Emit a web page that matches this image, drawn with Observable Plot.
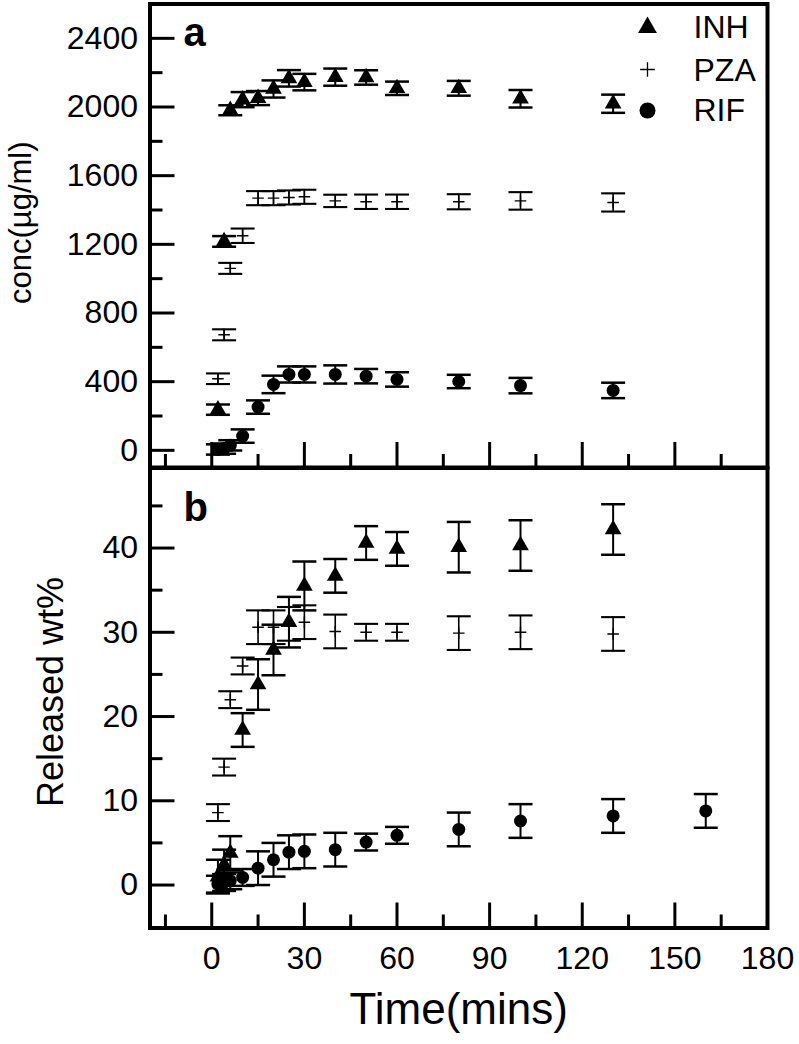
<!DOCTYPE html>
<html><head><meta charset="utf-8">
<script src="https://cdn.jsdelivr.net/npm/d3@7"></script>
<script src="https://cdn.jsdelivr.net/npm/@observablehq/plot@0.6"></script>
<style>
body{margin:0;background:#fff;}
#wrap{position:relative;width:799px;height:1044px;overflow:hidden;background:#fff;}
#wrap svg{position:absolute;left:0;overflow:visible;}
</style></head><body><div id="wrap"></div>
<script>
// ---------- data ----------
const drugs = ["INH", "PZA", "RIF"];
const times = [2, 4, 6, 10, 15, 20, 25, 30, 40, 50, 60, 80, 100, 130];
const timesRifRel = [2, 4, 6, 10, 15, 20, 25, 30, 40, 50, 60, 80, 100, 130, 160];

const inhConc    = [237, 1217, 1981, 2043, 2052, 2105, 2167, 2145, 2174, 2172, 2109, 2109, 2048, 2019];
const inhConcErr = [30, 31, 29, 44, 41, 50, 48, 48, 50, 42, 39, 43, 51, 53];
const pzaConc    = [417, 673, 1060, 1250, 1469, 1469, 1473, 1477, 1453, 1448, 1448, 1448, 1453, 1444];
const pzaConcErr = [31, 32, 32, 42, 41, 41, 41, 41, 36, 42, 42, 44, 51, 53];
const rifConc    = [5, 10, 29, 83, 252, 384, 442, 442, 442, 432, 413, 401, 377, 349];
const rifConcErr = [30, 30, 30, 39, 39, 51, 47, 47, 53, 42, 42, 39, 45, 45];

const inhRel    = [1.0, 2.4, 3.8, 18.4, 23.8, 27.9, 31.2, 35.5, 36.7, 40.6, 39.9, 40.1, 40.3, 42.2];
const inhRelErr = [2, 1.8, 2, 2, 3, 3, 3, 2.9, 2, 2, 2, 3, 3, 3];
const pzaRel    = [8.6, 14.0, 22.0, 26.0, 30.6, 30.6, 31.0, 31.2, 30.1, 30.0, 30.0, 29.9, 30.0, 29.8];
const pzaRelErr = [1, 1, 1, 1, 2, 2, 2, 2, 2, 1, 1, 2, 2, 2];
const rifRel    = [0.1, 0.3, 0.5, 0.9, 2.0, 3.0, 3.9, 4.0, 4.2, 5.1, 5.9, 6.6, 7.6, 8.2, 8.8];
const rifRelErr = [1, 1, 1, 1, 2, 2, 2, 2, 2, 1, 1, 2, 2, 2, 2];

const xMajor = [0, 30, 60, 90, 120, 150, 180];
const xMinor = [-15, 15, 45, 75, 105, 135, 165];
const concMajor = [0, 400, 800, 1200, 1600, 2000, 2400];
const concMinor = [200, 600, 1000, 1400, 1800, 2200];
const relMajor = [0, 10, 20, 30, 40];
const relMinor = [5, 15, 25, 35, 45];

const concTitle = "conc(\u00b5g/ml)";
const relTitle = "Released wt%";
const timeTitle = "Time(mins)";
const panelLabels = ["a", "b"];

// ---------- layout constants ----------
const FONT = "'Liberation Sans', Arial, Helvetica, sans-serif";
const W = 799, ML = 149.5, MR = 32;
const FW = W - ML - MR;            // frame width
const TOP_FH = 467 - 3.5;          // top frame height
const BOT_FH = 927 - 467;          // bottom frame height
const MAJOR = 25, MINOR = 13;

// ---------- helpers ----------
const symbols = {INH: "triangle", PZA: "plus", RIF: "circle"};
function rows(t, v, e) { return t.map((x, i) => ({t: x, v: v[i], lo: v[i] - e[i], hi: v[i] + e[i]})); }
const capSymbol = {draw(ctx, size) { const h = Math.sqrt(size / Math.PI); ctx.moveTo(-h, 0); ctx.lineTo(h, 0); }};

function seriesMarks(data, name) {
  const sym = symbols[name];
  const isPlus = sym === "plus";
  return [
    Plot.ruleX(data, {x: "t", y1: "lo", y2: "hi", stroke: "black", strokeWidth: isPlus ? 1.6 : 2}),
    Plot.dot(data, {x: "t", y: "lo", symbol: capSymbol, r: 12, stroke: "black", fill: "none", strokeWidth: isPlus ? 2.1 : 2.5}),
    Plot.dot(data, {x: "t", y: "hi", symbol: capSymbol, r: 12, stroke: "black", fill: "none", strokeWidth: isPlus ? 2.1 : 2.5}),
    Plot.dot(data, {x: "t", y: "v", symbol: sym, r: isPlus ? 3.8 : (sym === "triangle" ? 6.2 : 6.5),
      fill: isPlus ? "none" : "black", stroke: isPlus ? "black" : "none", strokeWidth: 1.4})
  ];
}
function yAxes(major, minor) {
  return [
    Plot.ruleY(major, {y: d => d, insetRight: FW - MAJOR, stroke: "black", strokeWidth: 3}),
    Plot.ruleY(minor, {y: d => d, insetRight: FW - MINOR, stroke: "black", strokeWidth: 3}),
    Plot.axisY({ticks: major, tickSize: 0, tickPadding: 12, tickFormat: d3.format("d"), fontSize: 32, label: null})
  ];
}
function xAxes(withLabels, fh) {
  const m = [
    Plot.ruleX(xMajor, {x: d => d, insetTop: fh - MAJOR, stroke: "black", strokeWidth: 3}),
    Plot.ruleX(xMinor, {x: d => d, insetTop: fh - MINOR, stroke: "black", strokeWidth: 3})
  ];
  if (withLabels) m.push(Plot.axisX({ticks: xMajor, tickSize: 0, tickPadding: 18, tickFormat: d3.format("d"), fontSize: 32, label: null}));
  else m.push(Plot.axisX({ticks: [], label: null}));
  return m;
}
const baseStyle = {fontFamily: FONT, fontSize: "32px", color: "black", background: "transparent", overflow: "visible"};

// ---------- top panel ----------
const topData = {INH: rows(times, inhConc, inhConcErr), PZA: rows(times, pzaConc, pzaConcErr), RIF: rows(times, rifConc, rifConcErr)};
const legendMarks = [];
drugs.forEach((name, i) => {
  const cy = [23.5, 65.5, 106.5][i];
  const ty = [23.5, 66.5, 106.5][i];
  const sym = symbols[name];
  legendMarks.push(Plot.dot([name], {frameAnchor: "top-right", dx: -120, dy: cy, symbol: sym,
    r: sym === "plus" ? 4.8 : (sym === "triangle" ? 7 : 8),
    fill: sym === "plus" ? "none" : "black", stroke: sym === "plus" ? "black" : "none", strokeWidth: 1.3}));
  legendMarks.push(Plot.text([name], {text: d => d, frameAnchor: "top-right", dx: -74, dy: ty, textAnchor: "start", lineAnchor: "middle", fontSize: 32, fill: "black"}));
});

const topPlot = Plot.plot({
  width: W, height: 470.5,
  marginLeft: ML, marginRight: MR, marginTop: 3.5, marginBottom: 3.5,
  style: baseStyle,
  x: {domain: [-20, 180]},
  y: {domain: [-100, 2600]},
  marks: [
    ...drugs.flatMap(n => seriesMarks(topData[n], n)),
    ...yAxes(concMajor, concMinor),
    ...xAxes(false, TOP_FH),
    Plot.text([panelLabels[0]], {text: d => d, frameAnchor: "top-left", dx: 33.5, dy: 41.5, textAnchor: "start", lineAnchor: "bottom", fontSize: 40, fontWeight: "bold", fill: "black"}),
    Plot.text([concTitle], {text: d => d, frameAnchor: "left", dx: -119.5, dy: -13, rotate: -90, textAnchor: "middle", lineAnchor: "bottom", fontSize: 31, fill: "black"}),
    ...legendMarks,
    Plot.frame({stroke: "black", strokeWidth: 4})
  ]
});
topPlot.style.top = "0px";

// ---------- bottom panel ----------
const botData = {INH: rows(times, inhRel, inhRelErr), PZA: rows(times, pzaRel, pzaRelErr), RIF: rows(timesRifRel, rifRel, rifRelErr)};
const botPlot = Plot.plot({
  width: W, height: 580.5,
  marginLeft: ML, marginRight: MR, marginTop: 3.5, marginBottom: 117,
  style: baseStyle,
  x: {domain: [-20, 180]},
  y: {domain: [-5.1, 49.5]},
  marks: [
    ...drugs.flatMap(n => seriesMarks(botData[n], n)),
    ...yAxes(relMajor, relMinor),
    ...xAxes(true, BOT_FH),
    Plot.text([panelLabels[1]], {text: d => d, frameAnchor: "top-left", dx: 33.5, dy: 53, textAnchor: "start", lineAnchor: "bottom", fontSize: 40, fontWeight: "bold", fill: "black"}),
    Plot.text([relTitle], {text: d => d, frameAnchor: "left", dx: -87.5, dy: -6, rotate: -90, textAnchor: "middle", lineAnchor: "bottom", fontSize: 36, fill: "black"}),
    Plot.text([timeTitle], {text: d => d, frameAnchor: "bottom", dy: 96, textAnchor: "middle", lineAnchor: "bottom", fontSize: 44, fill: "black"}),
    Plot.frame({stroke: "black", strokeWidth: 4})
  ]
});
botPlot.style.top = "463.5px";

const wrap = document.getElementById("wrap");
wrap.appendChild(topPlot);
wrap.appendChild(botPlot);
</script>
</body></html>
